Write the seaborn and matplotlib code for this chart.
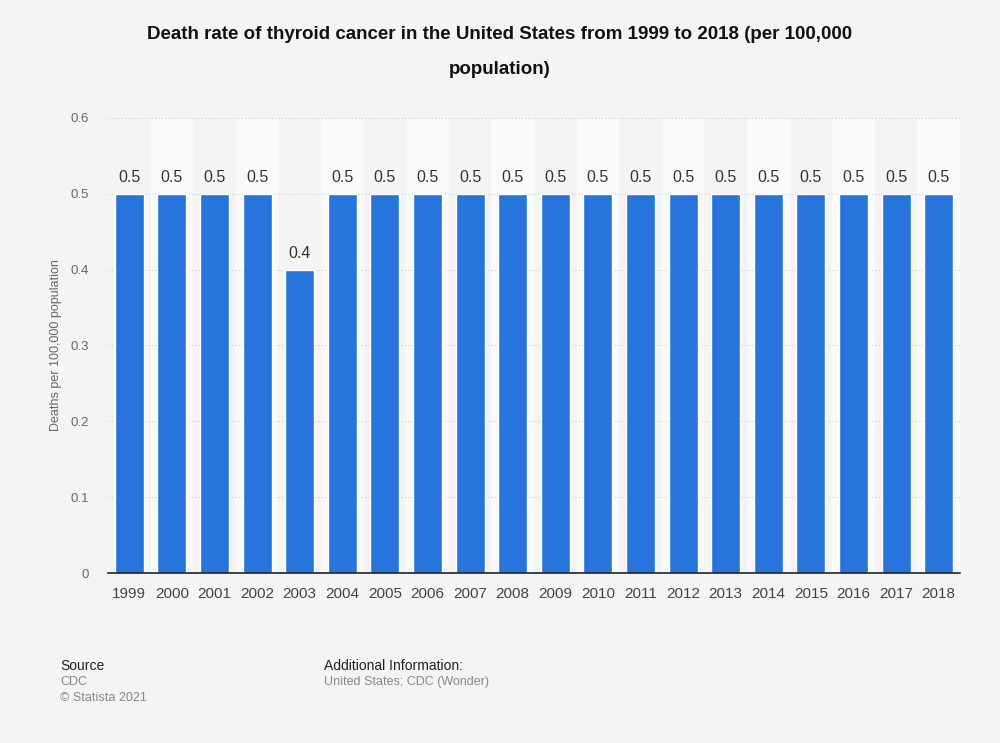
import matplotlib
matplotlib.use("Agg")
import matplotlib.pyplot as plt
import seaborn as sns
import pandas as pd

# data
years = [str(y) for y in range(1999, 2019)]
rates = [0.5, 0.5, 0.5, 0.5, 0.4, 0.5, 0.5, 0.5, 0.5, 0.5,
         0.5, 0.5, 0.5, 0.5, 0.5, 0.5, 0.5, 0.5, 0.5, 0.5]
yticks = [0, 0.1, 0.2, 0.3, 0.4, 0.5, 0.6]
ytick_labels = ["0", "0.1", "0.2", "0.3", "0.4", "0.5", "0.6"]

df = pd.DataFrame({"year": years, "rate": rates})

sns.set_style("white")
plt.rcParams["font.family"] = ["Liberation Sans", "DejaVu Sans"]

bg = "#f4f4f4"
fig = plt.figure(figsize=(10, 7.43), dpi=100, facecolor=bg)
ax = fig.add_axes([0.108, 0.2288, 0.852, 0.6124])
ax.set_facecolor(bg)

# alternating column bands
for i in range(len(years)):
    if i % 2 == 1:
        ax.axvspan(i - 0.5, i + 0.5, color="#fafafa", zorder=0, lw=0)

sns.barplot(data=df, x="year", y="rate", color="#2775dc", saturation=1,
            width=0.68, ax=ax, zorder=3)

for i, v in enumerate(rates):
    ax.text(i, v + 0.012, f"{v:g}", ha="center", va="bottom",
            fontsize=11.5, color="#333333", zorder=4)

ax.set_ylim(0, 0.6)
ax.set_xlim(-0.5, len(years) - 0.5)
ax.set_yticks(yticks)
ax.set_yticklabels(ytick_labels)
ax.yaxis.grid(True, linestyle=(0, (1, 2)), color="#cccccc", lw=0.8, zorder=1)
ax.set_axisbelow(True)

ax.tick_params(axis="y", length=0, pad=14, labelsize=9.5, labelcolor="#666666")
ax.tick_params(axis="x", length=0, pad=10, labelsize=11, labelcolor="#444444")
for s in ["top", "right", "left"]:
    ax.spines[s].set_visible(False)
ax.spines["bottom"].set_color("#222222")
ax.spines["bottom"].set_linewidth(1.2)
ax.spines["bottom"].set_zorder(5)

ax.set_xlabel("")
ax.set_ylabel("Deaths per 100,000 population", fontsize=9, color="#666666", labelpad=6)

fig.text(0.5, 0.953, "Death rate of thyroid cancer in the United States from 1999 to 2018 (per 100,000",
         ha="center", va="center", fontsize=13.5, fontweight="bold", color="#111111")
fig.text(0.5, 0.906, "population)", ha="center", va="center",
         fontsize=13.5, fontweight="bold", color="#111111")

fig.text(0.060, 0.104, "Source", fontsize=10, color="#222222", va="center")
fig.text(0.060, 0.082, "CDC", fontsize=9, color="#888888", va="center")
fig.text(0.060, 0.061, "© Statista 2021", fontsize=9, color="#888888", va="center")
fig.text(0.324, 0.104, "Additional Information:", fontsize=10, color="#222222", va="center")
fig.text(0.324, 0.082, "United States; CDC (Wonder)", fontsize=9, color="#888888", va="center")

fig.savefig("out.png", dpi=100, facecolor=bg)
